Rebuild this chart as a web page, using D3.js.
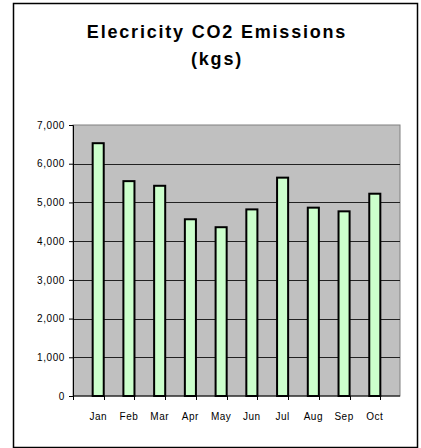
<!DOCTYPE html>
<html>
<head>
<meta charset="utf-8">
<script src="https://cdn.jsdelivr.net/npm/d3@7"></script>
<style>
  body { margin: 0; background: #fff; }
  svg text { font-family: "Liberation Sans", Arial, sans-serif; }
</style>
</head>
<body>
<div id="chart"></div>
<script>
// chart data
const months = ["Jan", "Feb", "Mar", "Apr", "May", "Jun", "Jul", "Aug", "Sep", "Oct"];
const emissions = [6530, 5550, 5430, 4565, 4360, 4820, 5640, 4865, 4770, 5225];
const yTicks = [0, 1000, 2000, 3000, 4000, 5000, 6000, 7000];

const width = 421, height = 448;
const margin = {top: 125, right: 21, bottom: 52, left: 73};

const svg = d3.select("#chart").append("svg")
    .attr("width", width)
    .attr("height", height);

// outer chart frame
svg.append("rect")
    .attr("x", 13.5).attr("y", 3.5)
    .attr("width", 404).attr("height", 444)
    .attr("fill", "#fff")
    .attr("stroke", "#000")
    .attr("stroke-width", 1.5);

// title
const title = svg.append("text")
    .attr("text-anchor", "middle")
    .attr("font-weight", "bold")
    .attr("font-size", 18)
    .attr("letter-spacing", 1.8)
    .attr("fill", "#000");
title.append("tspan").attr("x", 217).attr("y", 38).text("Elecricity CO2 Emissions");
title.append("tspan").attr("x", 217).attr("y", 65).text("(kgs)");

const innerW = width - margin.left - margin.right;
const innerH = height - margin.top - margin.bottom;

const x = d3.scaleBand().domain(months).range([0, innerW]).padding(0.64);
const y = d3.scaleLinear().domain([0, 7000]).range([innerH, 0]);

const g = svg.append("g")
    .attr("transform", "translate(" + margin.left + "," + margin.top + ")");

// plot area
g.append("rect")
    .attr("width", innerW).attr("height", innerH)
    .attr("fill", "#c0c0c0")
    .attr("stroke", "#808080")
    .attr("stroke-width", 1);

// gridlines
g.selectAll(".grid")
    .data(yTicks.filter(d => d > 0 && d < 7000))
    .join("line")
    .attr("x1", 0).attr("x2", innerW)
    .attr("y1", d => Math.round(y(d)) + 0.5)
    .attr("y2", d => Math.round(y(d)) + 0.5)
    .attr("stroke", "#222")
    .attr("stroke-width", 1);

// bars
g.selectAll(".bar")
    .data(emissions)
    .join("rect")
    .attr("x", (d, i) => x(months[i]))
    .attr("y", d => y(d))
    .attr("width", x.bandwidth())
    .attr("height", d => innerH - y(d))
    .attr("fill", "#ccffcc")
    .attr("stroke", "#000")
    .attr("stroke-width", 2);

// y axis
const yAxis = g.append("g")
    .call(d3.axisLeft(y).tickValues(yTicks).tickSize(4).tickPadding(4).tickFormat(d3.format(",")));
yAxis.select(".domain").attr("stroke", "#000");
yAxis.selectAll("text").attr("font-size", 10).attr("fill", "#000")
    .attr("letter-spacing", 0.6)
    .style("font-family", "'Liberation Sans', Arial, sans-serif");

// x axis with ticks between categories
const xAxisG = g.append("g").attr("transform", "translate(0," + innerH + ")");
xAxisG.append("line")
    .attr("x1", 0).attr("x2", innerW)
    .attr("stroke", "#000").attr("stroke-width", 1);
const step = x.step();
xAxisG.selectAll(".xtick")
    .data(d3.range(months.length + 1))
    .join("line")
    .attr("x1", i => Math.round(i * step) + 0.5)
    .attr("x2", i => Math.round(i * step) + 0.5)
    .attr("y1", 0).attr("y2", 4)
    .attr("stroke", "#000");
xAxisG.selectAll(".xlabel")
    .data(months)
    .join("text")
    .attr("x", d => x(d) + x.bandwidth() / 2)
    .attr("y", 24)
    .attr("text-anchor", "middle")
    .attr("font-size", 10)
    .attr("letter-spacing", 0.5)
    .attr("fill", "#000")
    .text(d => d);
</script>
</body>
</html>
